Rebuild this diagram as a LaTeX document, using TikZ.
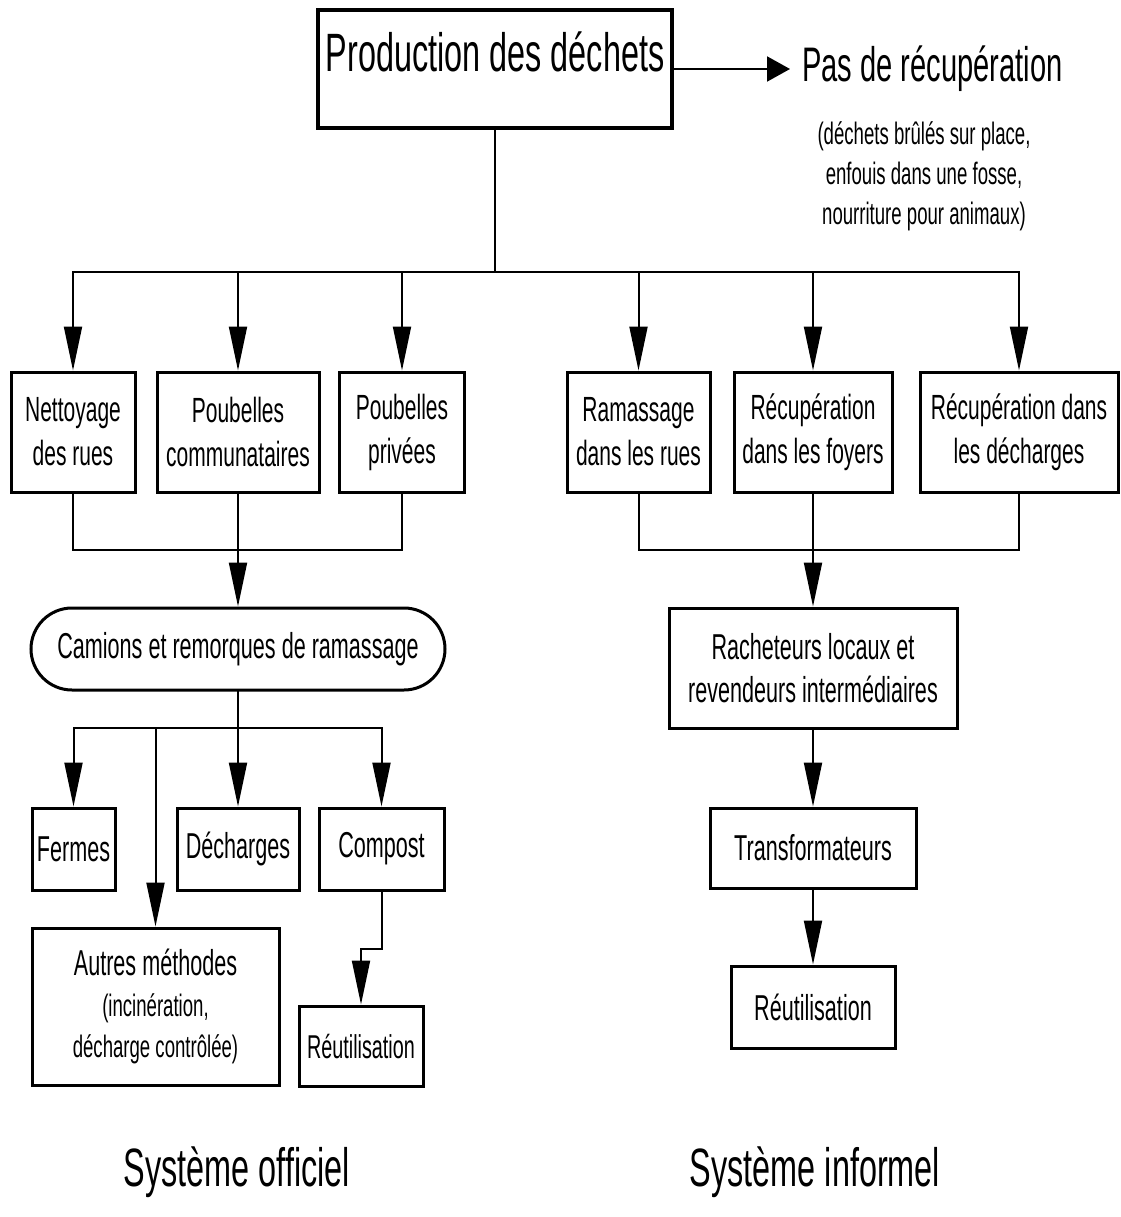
\documentclass[tikz,border=0pt]{standalone}
\usepackage{fontspec}
\setmainfont{Liberation Sans}[FakeStretch=0.6]
\usetikzlibrary{arrows.meta,shapes.misc}
\begin{document}
\begin{tikzpicture}[x=1pt,y=-1pt,
  box/.style={draw,line width=3pt,align=center,inner sep=0pt,font=\fontsize{35}{44}\selectfont},
  ln/.style={line width=2pt,line cap=rect},
  arr/.style={line width=2pt,-{Triangle[length=44pt,width=18pt]}},
  lbl/.style={font=\fontsize{54}{60}\selectfont,inner sep=0pt}]
\useasboundingbox (0,0) rectangle (1120,1217);
% top
\node[draw,line width=4pt,inner ysep=22pt,inner xsep=0pt,minimum width=354pt,
      text height=40pt,text depth=34pt,font=\fontsize{54}{60}\selectfont,anchor=base]
      (prod) at (495,72) {Production des déchets};
\node[anchor=west,inner xsep=12pt,font=\fontsize{48.5}{55}\selectfont] (pas) at (790,69) {Pas de récupération};
\node[align=center,font=\fontsize{31}{40}\selectfont,inner sep=0pt] (sub) at (924,176)
  {(déchets brûlés sur place,\\enfouis dans une fosse,\\nourriture pour animaux)};
\draw[line width=2pt,-{Triangle[length=23pt,width=25pt]}] (prod.east) -- (prod.east -| pas.west);
% first row
\node[box,minimum width=124pt,minimum height=120pt] (n1) at (73,432) {Nettoyage\\des rues};
\node[box,minimum width=162pt,minimum height=120pt] (n2) at (238,432) {Poubelles\\communataires};
\node[box,minimum width=125pt,minimum height=120pt] (n3) at (402,432) {Poubelles\\privées};
\node[box,minimum width=143pt,minimum height=120pt] (n4) at (638.5,432) {Ramassage\\dans les rues};
\node[box,minimum width=158pt,minimum height=120pt] (n5) at (813,432) {Récupération\\dans les foyers};
\node[box,minimum width=198pt,minimum height=120pt] (n6) at (1019,432) {Récupération dans\\les décharges};
\coordinate (row1) at (0,272);
\coordinate (row2) at (0,550);
\coordinate (row3) at (0,728);
\draw[ln] (prod.south) -- (prod.south |- row1);
\draw[ln] (n1.north |- row1) -- (n6.north |- row1);
\foreach \n in {n1,n2,n3,n4,n5,n6} \draw[arr] (\n.north |- row1) -- (\n.north);
% official system
\node[box,rounded rectangle,minimum width=414pt,minimum height=82pt,font=\fontsize{36}{44}\selectfont] (cam) at (238,649) {Camions et remorques de ramassage};
\draw[ln] (n1.south) -- (n1.south |- row2) -- (n3.south |- row2) -- (n3.south);
\draw[ln] (n2.south) -- (n2.south |- row2);
\draw[arr] (n2.south |- row2) -- (cam.north);
\node[box,minimum width=83pt,minimum height=82pt,font=\fontsize{36}{44}\selectfont] (fermes) at (73.5,849) {Fermes};
\node[box,minimum width=122pt,minimum height=82pt,font=\fontsize{36}{44}\selectfont] (dech) at (238,849) {Décharges};
\node[box,minimum width=125pt,minimum height=82pt,font=\fontsize{36}{44}\selectfont] (compost) at (381.5,849) {Compost};
\node[box,minimum width=247pt,minimum height=157pt,font=\fontsize{31}{41}\selectfont] (autres) at (155.5,1006.5)
  {{\fontsize{36}{44}\selectfont Autres méthodes}\\(incinération,\\décharge contrôlée)};
\node[box,minimum width=124pt,minimum height=80pt,font=\fontsize{33}{40}\selectfont] (reutL) at (361,1046) {Réutilisation};
\draw[ln] (cam.south) -- (cam.south |- row3);
\draw[ln] (fermes.north |- row3) -- (compost.north |- row3);
\foreach \n in {fermes,dech,compost,autres} \draw[arr] (\n.north |- row3) -- (\n.north);
\draw[arr] (compost.south) -- ++(0,57) -| (reutL.north);
% informal system
\node[box,minimum width=288pt,minimum height=120pt,font=\fontsize{36}{43}\selectfont] (rach) at (813,668) {Racheteurs locaux et\\revendeurs intermédiaires};
\node[box,minimum width=206pt,minimum height=80pt,font=\fontsize{36}{44}\selectfont] (trans) at (813,848) {Transformateurs};
\node[box,minimum width=164pt,minimum height=82pt,font=\fontsize{36}{44}\selectfont] (reutR) at (813,1007) {Réutilisation};
\draw[ln] (n4.south) -- (n4.south |- row2) -- (n6.south |- row2) -- (n6.south);
\draw[ln] (n5.south) -- (n5.south |- row2);
\draw[arr] (n5.south |- row2) -- (rach.north);
\draw[arr] (rach.south) -- (trans.north);
\draw[arr] (trans.south) -- (reutR.north);
% labels
\node[lbl,anchor=base] (off) at (237,1186) {Système officiel};
\node[lbl,anchor=base] (inf) at (815,1186) {Système informel};
\end{tikzpicture}
\end{document}
